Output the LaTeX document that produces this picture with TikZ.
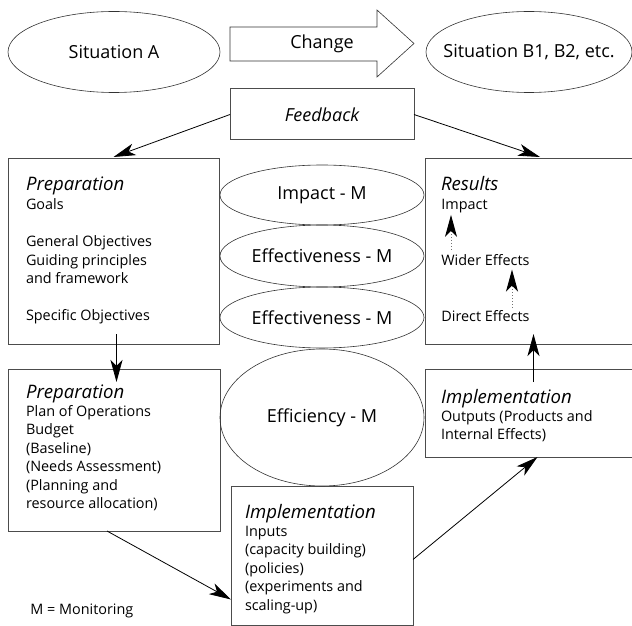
\documentclass[tikz,border=0pt]{standalone}
\usepackage{fontspec}
\setmainfont{Open Sans}
\usetikzlibrary{shapes.geometric,arrows.meta}

% text of a box: width, height, first baseline, lines
\newcommand\paneltext[4]{%
  \parbox[t][#2][t]{#1}{\raggedright\fontsize{7.2}{9.2}\selectfont\rule{0pt}{#3}#4}}
\newcommand\heading[1]{{\fontsize{9.3}{9.2}\selectfont\itshape #1}}

\tikzset{
  panel/.style = {draw = black!70, line width = .5pt, inner ysep = 0pt, outer sep = 0pt},
  oval/.style = {ellipse, draw = black!80, line width = .3pt, inner sep = 0pt,
    font = \fontsize{9}{11}\selectfont},
  link/.style = {draw = black, line width = .4pt,
    -{Stealth[length = 11pt, width = 6pt, inset = 3pt]}},
  hint/.style = {draw = black!55, densely dotted, line width = .5pt,
    -{Stealth[length = 11pt, width = 6pt, inset = 3pt, color = black]}},
  item/.style = {inner sep = 0pt, anchor = base west, font = \fontsize{7.2}{9.2}\selectfont}
}

\begin{document}
\begin{tikzpicture}[x = .5pt, y = -.5pt]
        \useasboundingbox (0,0) rectangle (632,626);

        % draws the situations and the change
        \node[oval, minimum width = 106pt, minimum height = 40.5pt] (sita) at (114,52) {Situation A};
        \node[oval, minimum width = 103pt, minimum height = 40.5pt] (sitb) at (529,52)
          {\makebox[0pt]{Situation B1, B2, etc.}};
        \draw[draw = black!80, line width = .3pt]
          (230,27) -- (377,27) -- (377,10) -- (414,43.5) -- (377,77) -- (377,61) -- (230,61) -- cycle;
        \node[font = \fontsize{9}{11}\selectfont] (change) at (322,44) {Change};

        % draws the boxes
        \node[panel, anchor = center, minimum width = 92pt, minimum height = 25.5pt,
          font = \fontsize{9}{11}\selectfont\itshape] (feedback) at (322,114.5) {Feedback};
        \node[panel, anchor = north west, inner xsep = 9pt] (prep1) at (8,159)
          {\paneltext{87.5pt}{92.5pt}{16pt}{\heading{Preparation}\\ Goals\\[9.5pt]
            General Objectives\\ Guiding principles\\ and framework\\[9.5pt] Specific Objectives}};
        \node[panel, anchor = north west, inner xsep = 8pt] (results) at (425,159)
          {\paneltext{92pt}{92.5pt}{16pt}{\heading{Results}}};
        \node[panel, anchor = north west, inner xsep = 9pt] (prep2) at (8,369)
          {\paneltext{88pt}{81pt}{14.5pt}{\heading{Preparation}\\ Plan of Operations\\ Budget\\
            (Baseline)\\ (Needs Assessment)\\ (Planning and\\ resource allocation)}};
        \node[panel, anchor = north west, inner xsep = 8pt] (outputs) at (425,369)
          {\paneltext{92pt}{44pt}{17pt}{\heading{Implementation}\\ Outputs (Products and\\
            Internal Effects)}};
        \node[panel, anchor = north west, inner xsep = 7pt] (inputs) at (231,486)
          {\paneltext{77pt}{69.5pt}{16pt}{\heading{Implementation}\\ Inputs\\ (capacity building)\\
            (policies)\\ (experiments and\\ scaling-up)}};

        % draws the monitoring ellipses
        \foreach \name/\y/\h/\lbl in {impact/195/30/Impact - M, effect1/256/31/Effectiveness - M,
            effect2/317.5/30.5/Effectiveness - M, effic/417.5/68.5/Efficiency - M}
          \node[oval, minimum width = 102pt, minimum height = \h pt] (\name) at (322,\y) {\lbl};

        % draws the results
        \node[item] (resimpact) at (441,209) {Impact};
        \node[item] (reswider) at (441,265) {Wider Effects};
        \node[item] (resdirect) at (441,321) {Direct Effects};
        \draw[hint] ([xshift = 5pt, yshift = 2pt]reswider.north west)
          -- ([xshift = 5pt, yshift = -1pt]resimpact.south west);
        \draw[hint] ([xshift = 35.5pt, yshift = 1pt]resdirect.north west)
          -- ([xshift = 35.5pt, yshift = -2pt]reswider.south west);

        % draws the arrows
        \draw[link] (feedback.west) -- ([yshift = 1pt]prep1.north);
        \draw[link] (feedback.east) -- ([xshift = 3.5pt, yshift = 1pt]results.north);
        \draw[link] ([xshift = 1.5pt, yshift = 5pt]prep1.south)
          -- ([xshift = 1.25pt, yshift = -6.5pt]prep2.north);
        \draw[link] ([xshift = -3.5pt]prep2.south) -- ([yshift = -22pt]inputs.west);
        \draw[link] ([yshift = -2pt]inputs.east) -- ([xshift = 2.25pt]outputs.south);
        \draw[link] ([xshift = .25pt, yshift = -6.5pt]outputs.north)
          -- ([xshift = .25pt, yshift = 5pt]results.south);

        \node[item] (legend) at (30,614) {M = Monitoring};
      \end{tikzpicture}
\end{document}
